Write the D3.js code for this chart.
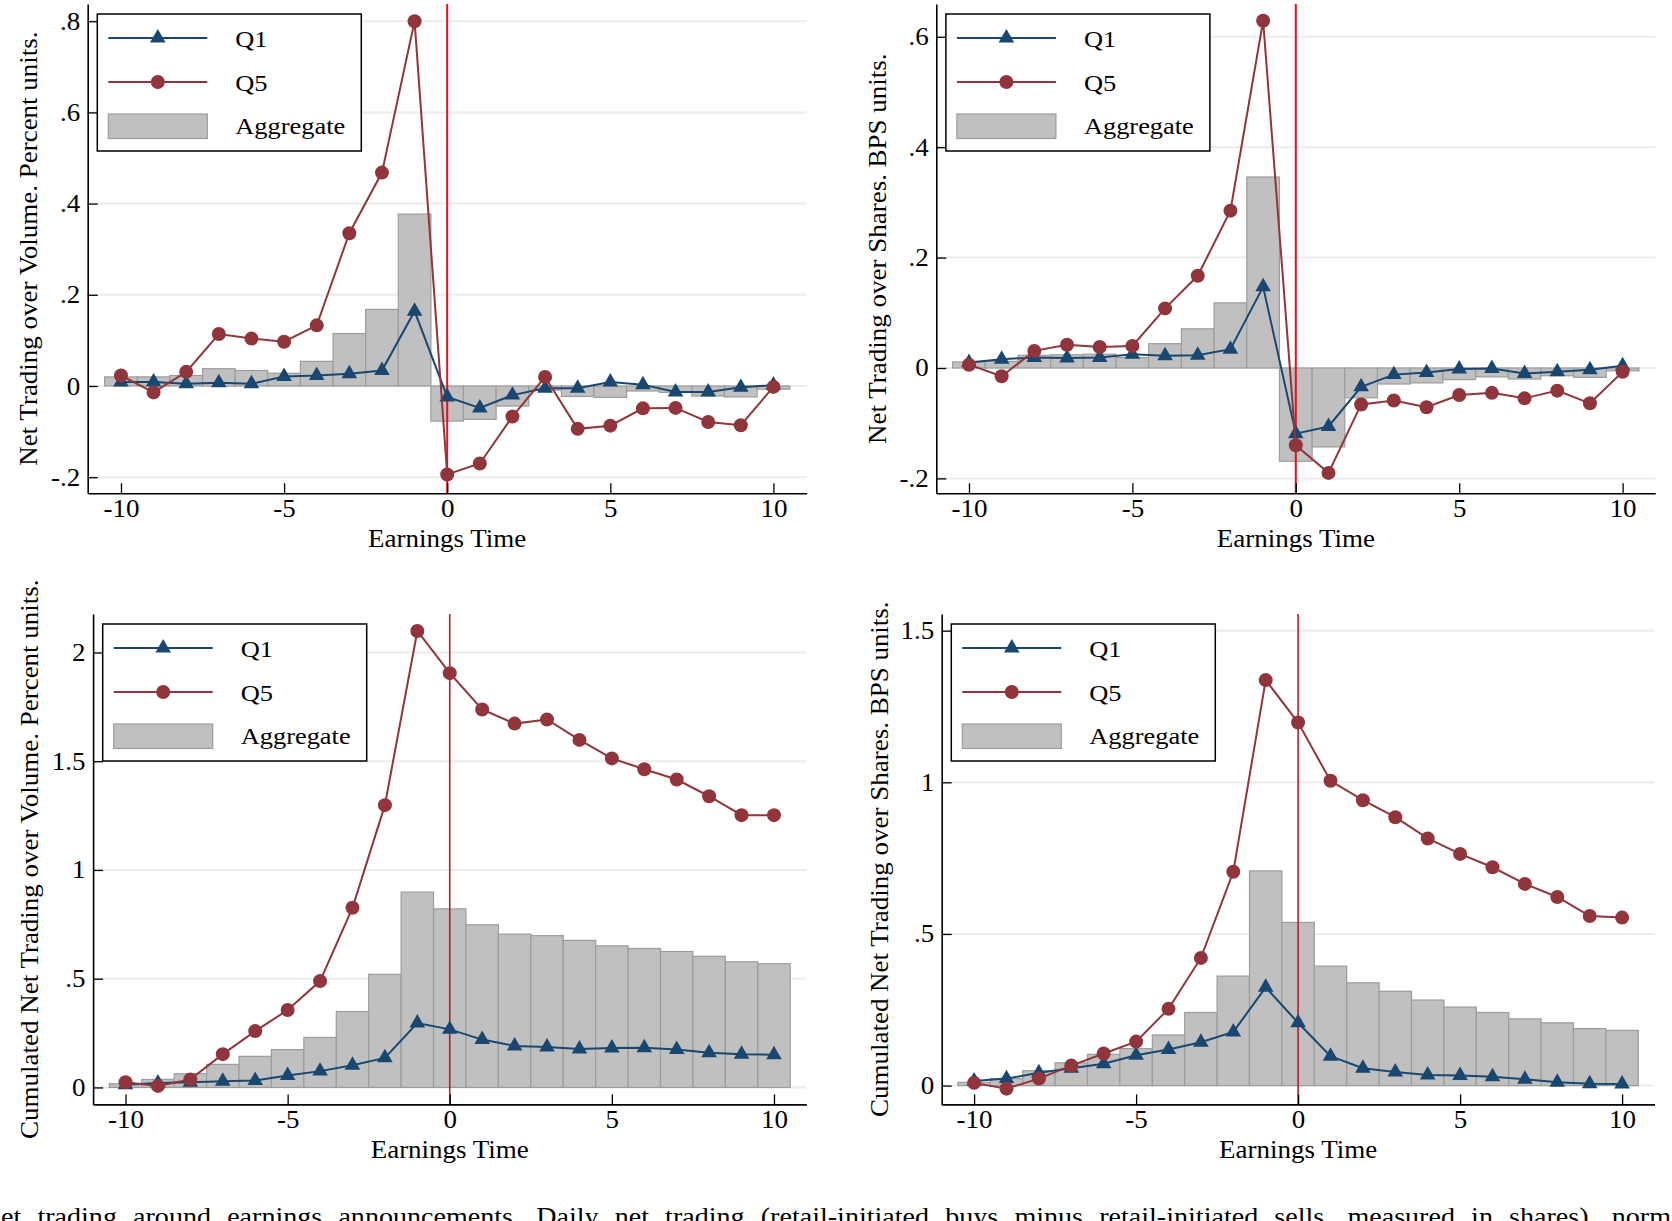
<!DOCTYPE html>
<html>
<head>
<meta charset="utf-8">
<script src="https://cdn.jsdelivr.net/npm/d3@7"></script>
<style>
  body { margin: 0; background: #fff; }
  svg { display: block; font-family: "Liberation Serif", "Times New Roman", serif; }
</style>
</head>
<body>
<svg id="fig" width="1672" height="1221"></svg>
<script>

////////////////////////////// data //////
var earningsTime = [-10, -9, -8, -7, -6, -5, -4, -3, -2, -1, 0, 1, 2, 3, 4, 5, 6, 7, 8, 9, 10];

// net trading over volume (percent)
var netVolQ1  = [0.009, 0.009, 0.005, 0.007, 0.005, 0.021, 0.023, 0.027, 0.034, 0.164, -0.024, -0.048, -0.020, -0.005, -0.005, 0.009, 0.003, -0.013, -0.013, -0.003, 0.002];
var netVolQ5  = [0.023, -0.014, 0.031, 0.114, 0.104, 0.097, 0.133, 0.335, 0.468, 0.800, -0.194, -0.170, -0.067, 0.020, -0.094, -0.087, -0.049, -0.048, -0.079, -0.086, -0.002];
var netVolAgg = [0.020, 0.020, 0.023, 0.038, 0.034, 0.028, 0.054, 0.115, 0.168, 0.377, -0.077, -0.073, -0.044, -0.009, -0.023, -0.025, -0.011, -0.014, -0.022, -0.024, -0.007];

// net trading over shares (bps)
var netShrQ1  = [0.010, 0.016, 0.019, 0.018, 0.019, 0.025, 0.022, 0.023, 0.034, 0.147, -0.119, -0.106, -0.034, -0.012, -0.008, -0.002, -0.001, -0.010, -0.007, -0.003, 0.004];
var netShrQ5  = [0.006, -0.015, 0.031, 0.042, 0.038, 0.040, 0.108, 0.167, 0.285, 0.629, -0.140, -0.190, -0.066, -0.059, -0.071, -0.049, -0.045, -0.055, -0.041, -0.064, -0.007];
var netShrAgg = [0.011, 0.012, 0.023, 0.024, 0.025, 0.019, 0.044, 0.071, 0.118, 0.346, -0.169, -0.143, -0.054, -0.029, -0.027, -0.021, -0.016, -0.020, -0.014, -0.017, -0.005];

// cumulated net trading over volume (percent)
var cumVolQ1  = [0.012, 0.020, 0.024, 0.029, 0.032, 0.055, 0.075, 0.102, 0.136, 0.296, 0.267, 0.220, 0.191, 0.186, 0.177, 0.181, 0.182, 0.174, 0.160, 0.153, 0.150];
var cumVolQ5  = [0.024, 0.007, 0.037, 0.153, 0.259, 0.356, 0.489, 0.826, 1.298, 2.099, 1.905, 1.738, 1.673, 1.692, 1.598, 1.513, 1.463, 1.416, 1.339, 1.252, 1.252];
var cumVolAgg = [0.017, 0.037, 0.063, 0.106, 0.143, 0.174, 0.230, 0.349, 0.520, 0.898, 0.821, 0.748, 0.705, 0.698, 0.676, 0.651, 0.639, 0.625, 0.603, 0.578, 0.569];

// cumulated net trading over shares (bps)
var cumShrQ1  = [0.015, 0.023, 0.042, 0.057, 0.072, 0.100, 0.119, 0.143, 0.177, 0.324, 0.207, 0.097, 0.057, 0.045, 0.035, 0.033, 0.029, 0.021, 0.011, 0.006, 0.005];
var cumShrQ5  = [0.009, -0.010, 0.023, 0.066, 0.106, 0.145, 0.253, 0.421, 0.705, 1.337, 1.197, 1.005, 0.941, 0.885, 0.815, 0.764, 0.720, 0.665, 0.622, 0.559, 0.554];
var cumShrAgg = [0.011, 0.023, 0.049, 0.075, 0.103, 0.122, 0.167, 0.241, 0.361, 0.708, 0.538, 0.394, 0.339, 0.311, 0.282, 0.259, 0.241, 0.220, 0.207, 0.188, 0.182];

var xTicks = [-10, -5, 0, 5, 10];
var xTickLabels = ["-10", "-5", "0", "5", "10"];

var yTicksNetVol = [-0.2, 0, 0.2, 0.4, 0.6, 0.8];
var yLabelsNetVol = ["-.2", "0", ".2", ".4", ".6", ".8"];
var yTicksNetShr = [-0.2, 0, 0.2, 0.4, 0.6];
var yLabelsNetShr = ["-.2", "0", ".2", ".4", ".6"];
var yTicksCumVol = [0, 0.5, 1, 1.5, 2];
var yLabelsCumVol = ["0", ".5", "1", "1.5", "2"];
var yTicksCumShr = [0, 0.5, 1, 1.5];
var yLabelsCumShr = ["0", ".5", "1", "1.5"];

var legendLabels = ["Q1", "Q5", "Aggregate"];
var xTitle = "Earnings Time";
var captionText = "et trading around earnings announcements. Daily net trading (retail-initiated buys minus retail-initiated sells, measured in shares), norm";

////////////////////////////// style //////
var serif = '"Liberation Serif", "Times New Roman", serif';
var colQ1 = "#1a476f";
var colQ5 = "#90353b";
var colBarFill = "#c0c0c0";
var colBarLine = "#9c9c9c";
var colGrid = "#ececec";
// the figure's type runs a bit wide compared with Times
var stretch = "scale(1.08,1)";

var panels = [
  { q1: netVolQ1, q5: netVolQ5, agg: netVolAgg, yTicks: yTicksNetVol, yLabels: yLabelsNetVol,
    yTitle: "Net Trading over Volume. Percent units.",
    left: 87.7, right: 806.7, top: 4, bottom: 493.3, xDom: [-11.02, 11.02], yDom: [-0.2353, 0.8377],
    titleOff: 51, vColor: "#e0121c", vWidth: 2 },
  { q1: netShrQ1, q5: netShrQ5, agg: netShrAgg, yTicks: yTicksNetShr, yLabels: yLabelsNetShr,
    yTitle: "Net Trading over Shares. BPS units.",
    left: 936.3, right: 1655.3, top: 4, bottom: 493.3, xDom: [-11.0, 11.0], yDom: [-0.227, 0.6594],
    titleOff: 50, vColor: "#e0121c", vWidth: 2 },
  { q1: cumVolQ1, q5: cumVolQ5, agg: cumVolAgg, yTicks: yTicksCumVol, yLabels: yLabelsCumVol,
    yTitle: "Cumulated Net Trading over Volume. Percent units.",
    left: 93.1, right: 806.4, top: 614, bottom: 1104.4, xDom: [-11.0, 11.0], yDom: [-0.078, 2.177],
    titleOff: 55.5, vColor: "#b1212d", vWidth: 1.6 },
  { q1: cumShrQ1, q5: cumShrQ5, agg: cumShrAgg, yTicks: yTicksCumShr, yLabels: yLabelsCumShr,
    yTitle: "Cumulated Net Trading over Shares. BPS units.",
    left: 941.7, right: 1654.5, top: 614, bottom: 1104.4, xDom: [-11.0, 11.0], yDom: [-0.062, 1.555],
    titleOff: 54, vColor: "#b1212d", vWidth: 1.6 }
];

var svg = d3.select("svg#fig");

function drawPanel(p) {

  var xScale = d3.scaleLinear().domain(p.xDom).range([p.left, p.right]);
  var yScale = d3.scaleLinear().domain(p.yDom).range([p.bottom, p.top]);
  var g = svg.append("g").attr("class", "panel");

  // gridlines
  g.append("g").selectAll("line")
    .data(p.yTicks)
    .enter().append("line")
    .attr("x1", p.left).attr("x2", p.right)
    .attr("y1", function(d) { return yScale(d) })
    .attr("y2", function(d) { return yScale(d) })
    .style("stroke", colGrid).style("stroke-width", 2);

  // aggregate bars
  g.append("g").selectAll("rect")
    .data(earningsTime)
    .enter().append("rect")
    .attr("x", function(d) { return xScale(d - 0.5) })
    .attr("width", function(d) { return xScale(d + 0.5) - xScale(d - 0.5) })
    .attr("y", function(d, i) { return Math.min(yScale(p.agg[i]), yScale(0)) })
    .attr("height", function(d, i) { return Math.abs(yScale(p.agg[i]) - yScale(0)) })
    .style("fill", colBarFill).style("stroke", colBarLine).style("stroke-width", 1.2);

  // earnings day
  g.append("line")
    .attr("x1", xScale(0)).attr("x2", xScale(0))
    .attr("y1", p.top).attr("y2", p.bottom)
    .style("stroke", p.vColor).style("stroke-width", p.vWidth);

  var line = d3.line()
    .x(function(d) { return xScale(d[0]) })
    .y(function(d) { return yScale(d[1]) });

  var q1pts = earningsTime.map(function(d, i) { return [d, p.q1[i]] });
  var q5pts = earningsTime.map(function(d, i) { return [d, p.q5[i]] });

  g.append("path").attr("d", line(q1pts))
    .style("fill", "none").style("stroke", colQ1).style("stroke-width", 2);
  g.append("g").selectAll("path")
    .data(q1pts)
    .enter().append("path")
    .attr("d", d3.symbol(d3.symbolTriangle, 105))
    .attr("transform", function(d) { return "translate(" + xScale(d[0]) + "," + yScale(d[1]) + ")" })
    .style("fill", colQ1);

  g.append("path").attr("d", line(q5pts))
    .style("fill", "none").style("stroke", colQ5).style("stroke-width", 2);
  g.append("g").selectAll("circle")
    .data(q5pts)
    .enter().append("circle")
    .attr("cx", function(d) { return xScale(d[0]) })
    .attr("cy", function(d) { return yScale(d[1]) })
    .attr("r", 7)
    .style("fill", colQ5);

  // axes, ticks point inward
  var axisLeft = d3.axisLeft(yScale).tickValues(p.yTicks)
    .tickFormat(function(d, i) { return p.yLabels[i] })
    .tickSize(-10).tickSizeOuter(0).tickPadding(7);
  var axisBottom = d3.axisBottom(xScale).tickValues(xTicks)
    .tickFormat(function(d, i) { return xTickLabels[i] })
    .tickSize(-10).tickSizeOuter(0).tickPadding(6);

  g.append("g").attr("class", "axis axis--y")
    .attr("transform", "translate(" + p.left + ",0)")
    .call(axisLeft);
  g.append("g").attr("class", "axis axis--x")
    .attr("transform", "translate(0," + p.bottom + ")")
    .call(axisBottom);

  g.selectAll(".axis").attr("font-family", serif).attr("font-size", 25);
  g.selectAll(".axis path.domain").style("stroke", "#000").style("stroke-width", 1.6);
  g.selectAll(".axis g.tick line").style("stroke", "#000").style("stroke-width", 1.3);
  g.selectAll(".axis text")
    .attr("fill", "#000")
    .attr("transform", stretch)
    .style("font-family", serif)
    .style("font-size", "25px");

  // titles
  g.append("text")
    .attr("transform", "translate(" + ((p.left + p.right) / 2) + "," + (p.bottom + 54) + ") " + stretch)
    .attr("text-anchor", "middle")
    .style("font-size", "25px")
    .text(xTitle);

  g.append("text")
    .attr("transform", "translate(" + (p.left - p.titleOff) + "," + ((p.top + p.bottom) / 2) + ") rotate(-90) " + stretch)
    .attr("text-anchor", "middle")
    .style("font-size", "25px")
    .text(p.yTitle);

  // legend
  var lg = g.append("g").attr("transform", "translate(" + (p.left + 9.6) + "," + (p.top + 10) + ")");
  lg.append("rect").attr("width", 264).attr("height", 137)
    .style("fill", "#fff").style("stroke", "#000").style("stroke-width", 1.5);

  lg.append("line").attr("x1", 11).attr("x2", 110).attr("y1", 24).attr("y2", 24)
    .style("stroke", colQ1).style("stroke-width", 2);
  lg.append("path").attr("d", d3.symbol(d3.symbolTriangle, 105))
    .attr("transform", "translate(60.5,24)").style("fill", colQ1);

  lg.append("line").attr("x1", 11).attr("x2", 110).attr("y1", 68).attr("y2", 68)
    .style("stroke", colQ5).style("stroke-width", 2);
  lg.append("circle").attr("cx", 60.5).attr("cy", 68).attr("r", 7).style("fill", colQ5);

  lg.append("rect").attr("x", 11).attr("y", 100).attr("width", 99).attr("height", 24.5)
    .style("fill", colBarFill).style("stroke", colBarLine).style("stroke-width", 1.2);

  lg.selectAll("text.leg")
    .data(legendLabels)
    .enter().append("text")
    .attr("class", "leg")
    .attr("transform", function(d, i) { return "translate(138," + [32.7, 76.7, 120.3][i] + ") scale(1.1,1)" })
    .style("font-size", "24px")
    .text(function(d) { return d });
}

panels.forEach(drawPanel);

// caption, cut off by the bottom edge as in the source; spread words to full width
var cap = svg.append("text")
  .attr("transform", "translate(1,1225) " + stretch)
  .style("font-size", "26px")
  .text(captionText);
var natural = cap.node().getComputedTextLength();
var gaps = captionText.split(" ").length - 1;
cap.style("word-spacing", Math.max(0, (1670 / 1.08 - natural) / gaps) + "px");

</script>
</body>
</html>
